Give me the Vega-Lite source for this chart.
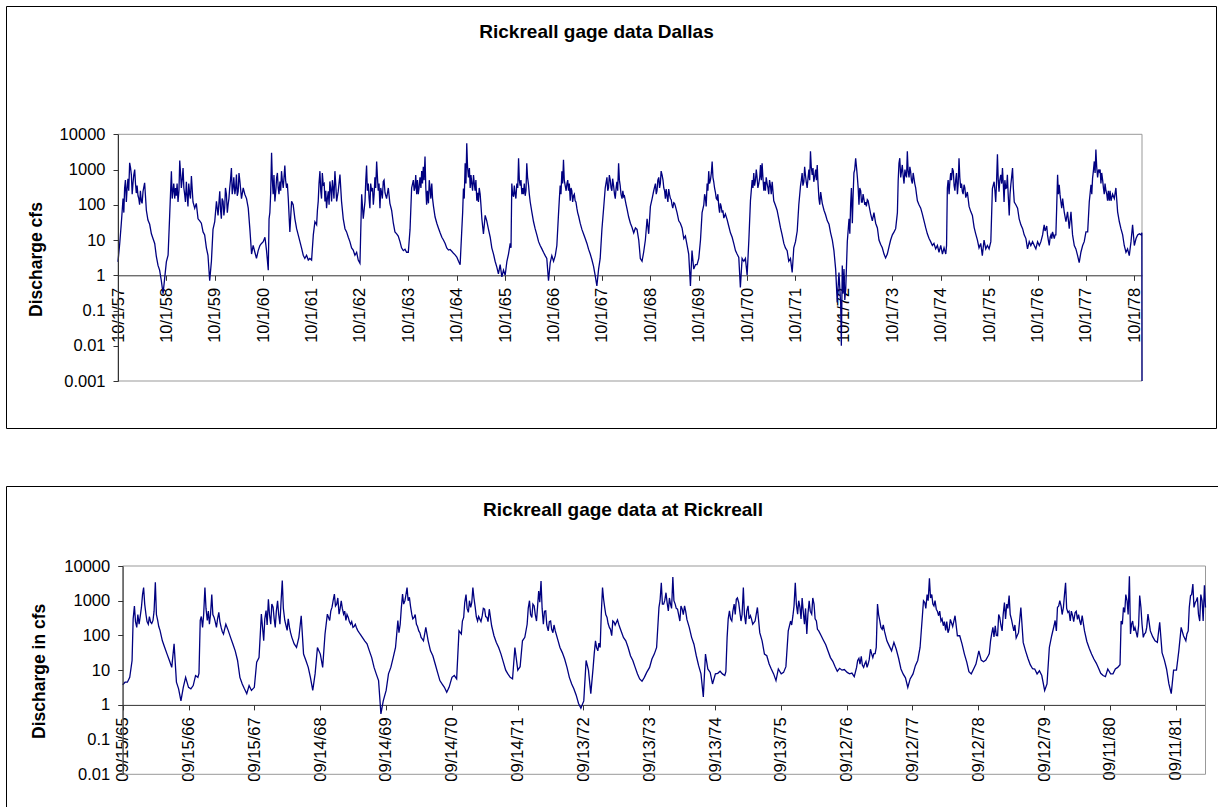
{
"$schema": "https://vega.github.io/schema/vega-lite/v6.json",
"padding": {"left": 5, "top": 5, "right": 0, "bottom": 0},
"background": "white",
"bounds": "flush",
"spacing": 58,
"config": {
  "font": "Liberation Sans",
  "view": {"stroke": "#000", "strokeWidth": 1},
  "axis": {"labelFont": "Liberation Sans", "titleFont": "Liberation Sans", "labelColor": "#000", "titleColor": "#000", "tickColor": "#333", "domainColor": "#333", "grid": false, "labelFontSize": 16.5, "tickSize": 5, "labelOverlap": false, "labelFlush": false, "labelBound": false}
},
"datasets": {
"top": [
{"d":"1957-10-01","q":2.4},{"d":"1957-10-14","q":8},{"d":"1957-10-26","q":30},{"d":"1957-11-08","q":150},{"d":"1957-11-20","q":300},{"d":"1957-12-03","q":120},{"d":"1957-12-15","q":550},{"d":"1957-12-28","q":1550},{"d":"1958-01-10","q":700},{"d":"1958-01-22","q":400},{"d":"1958-02-04","q":1000},{"d":"1958-02-16","q":215},{"d":"1958-03-01","q":180},{"d":"1958-03-13","q":100},{"d":"1958-03-26","q":125},{"d":"1958-04-08","q":240},{"d":"1958-04-20","q":420},{"d":"1958-05-03","q":70},{"d":"1958-05-15","q":37},{"d":"1958-05-28","q":28},{"d":"1958-06-10","q":15},{"d":"1958-06-22","q":11},{"d":"1958-07-05","q":8},{"d":"1958-07-17","q":3.5},{"d":"1958-07-30","q":1.9},{"d":"1958-08-11","q":1.4},{"d":"1958-08-24","q":0.7},{"d":"1958-09-06","q":0.3},{"d":"1958-09-18","q":0.8},
{"d":"1958-10-01","q":2.4},{"d":"1958-10-14","q":3.7},{"d":"1958-10-26","q":50},{"d":"1958-11-08","q":900},{"d":"1958-11-20","q":240},{"d":"1958-12-03","q":150},{"d":"1958-12-15","q":180},{"d":"1958-12-28","q":120},{"d":"1959-01-10","q":1800},{"d":"1959-01-22","q":300},{"d":"1959-02-04","q":1100},{"d":"1959-02-16","q":200},{"d":"1959-03-01","q":450},{"d":"1959-03-13","q":90},{"d":"1959-03-26","q":200},{"d":"1959-04-08","q":650},{"d":"1959-04-20","q":120},{"d":"1959-05-03","q":80},{"d":"1959-05-15","q":110},{"d":"1959-05-28","q":40},{"d":"1959-06-10","q":35},{"d":"1959-06-22","q":30},{"d":"1959-07-05","q":17},{"d":"1959-07-17","q":14},{"d":"1959-07-30","q":6},{"d":"1959-08-11","q":3.7},{"d":"1959-08-24","q":0.7},{"d":"1959-09-06","q":2.5},{"d":"1959-09-18","q":20},
{"d":"1959-10-01","q":33},{"d":"1959-10-14","q":125},{"d":"1959-10-26","q":50},{"d":"1959-11-08","q":240},{"d":"1959-11-20","q":40},{"d":"1959-12-03","q":125},{"d":"1959-12-15","q":80},{"d":"1959-12-28","q":200},{"d":"1960-01-10","q":100},{"d":"1960-01-22","q":300},{"d":"1960-02-04","q":1100},{"d":"1960-02-16","q":300},{"d":"1960-03-01","q":200},{"d":"1960-03-13","q":720},{"d":"1960-03-26","q":240},{"d":"1960-04-08","q":460},{"d":"1960-04-20","q":150},{"d":"1960-05-03","q":300},{"d":"1960-05-15","q":200},{"d":"1960-05-28","q":150},{"d":"1960-06-10","q":80},{"d":"1960-06-22","q":21},{"d":"1960-07-05","q":4},{"d":"1960-07-17","q":7},{"d":"1960-07-30","q":4.5},{"d":"1960-08-11","q":3},{"d":"1960-08-24","q":5},{"d":"1960-09-06","q":7},{"d":"1960-09-18","q":8},
{"d":"1960-10-01","q":9},{"d":"1960-10-14","q":12},{"d":"1960-10-26","q":5},{"d":"1960-11-08","q":1.4},{"d":"1960-11-20","q":60},{"d":"1960-12-03","q":3000},{"d":"1960-12-15","q":200},{"d":"1960-12-28","q":125},{"d":"1961-01-10","q":580},{"d":"1961-01-22","q":300},{"d":"1961-02-04","q":460},{"d":"1961-02-16","q":900},{"d":"1961-03-01","q":300},{"d":"1961-03-13","q":1300},{"d":"1961-03-26","q":300},{"d":"1961-04-08","q":150},{"d":"1961-04-20","q":17},{"d":"1961-05-03","q":125},{"d":"1961-05-15","q":100},{"d":"1961-05-28","q":40},{"d":"1961-06-10","q":21},{"d":"1961-06-22","q":14},{"d":"1961-07-05","q":9},{"d":"1961-07-17","q":6},{"d":"1961-07-30","q":3.7},{"d":"1961-08-11","q":3},{"d":"1961-08-24","q":3.7},{"d":"1961-09-06","q":2.7},{"d":"1961-09-18","q":3},
{"d":"1961-10-01","q":2.7},{"d":"1961-10-14","q":14},{"d":"1961-10-26","q":33},{"d":"1961-11-08","q":27},{"d":"1961-11-20","q":125},{"d":"1961-12-03","q":900},{"d":"1961-12-15","q":150},{"d":"1961-12-28","q":370},{"d":"1962-01-10","q":125},{"d":"1962-01-22","q":80},{"d":"1962-02-04","q":240},{"d":"1962-02-16","q":460},{"d":"1962-03-01","q":125},{"d":"1962-03-13","q":300},{"d":"1962-03-26","q":900},{"d":"1962-04-08","q":125},{"d":"1962-04-20","q":240},{"d":"1962-05-03","q":720},{"d":"1962-05-15","q":125},{"d":"1962-05-28","q":40},{"d":"1962-06-10","q":21},{"d":"1962-06-22","q":17},{"d":"1962-07-05","q":12},{"d":"1962-07-17","q":9},{"d":"1962-07-30","q":6},{"d":"1962-08-11","q":5.2},{"d":"1962-08-24","q":3.7},{"d":"1962-09-06","q":4.5},{"d":"1962-09-18","q":2.7},
{"d":"1962-10-01","q":2.2},{"d":"1962-10-14","q":200},{"d":"1962-10-26","q":40},{"d":"1962-11-08","q":125},{"d":"1962-11-20","q":1300},{"d":"1962-12-03","q":400},{"d":"1962-12-15","q":80},{"d":"1962-12-28","q":240},{"d":"1963-01-10","q":100},{"d":"1963-01-22","q":600},{"d":"1963-02-04","q":1700},{"d":"1963-02-16","q":250},{"d":"1963-03-01","q":80},{"d":"1963-03-13","q":220},{"d":"1963-03-26","q":460},{"d":"1963-04-08","q":220},{"d":"1963-04-20","q":150},{"d":"1963-05-03","q":300},{"d":"1963-05-15","q":110},{"d":"1963-05-28","q":70},{"d":"1963-06-10","q":30},{"d":"1963-06-22","q":17},{"d":"1963-07-05","q":15},{"d":"1963-07-17","q":13},{"d":"1963-07-30","q":9},{"d":"1963-08-11","q":6},{"d":"1963-08-24","q":5},{"d":"1963-09-06","q":5.5},{"d":"1963-09-18","q":4.5},
{"d":"1963-10-01","q":4.5},{"d":"1963-10-14","q":20},{"d":"1963-10-26","q":300},{"d":"1963-11-08","q":500},{"d":"1963-11-20","q":300},{"d":"1963-12-03","q":200},{"d":"1963-12-15","q":200},{"d":"1963-12-28","q":600},{"d":"1964-01-10","q":900},{"d":"1964-01-22","q":1200},{"d":"1964-02-04","q":2350},{"d":"1964-02-16","q":100},{"d":"1964-03-01","q":110},{"d":"1964-03-13","q":300},{"d":"1964-03-26","q":400},{"d":"1964-04-08","q":90},{"d":"1964-04-20","q":45},{"d":"1964-05-03","q":30},{"d":"1964-05-15","q":22},{"d":"1964-05-28","q":16},{"d":"1964-06-10","q":12},{"d":"1964-06-22","q":10},{"d":"1964-07-05","q":8},{"d":"1964-07-17","q":6},{"d":"1964-07-30","q":5.2},{"d":"1964-08-11","q":5.4},{"d":"1964-08-24","q":4.8},{"d":"1964-09-06","q":4.2},{"d":"1964-09-18","q":3.8},
{"d":"1964-10-01","q":3.3},{"d":"1964-10-14","q":2.5},{"d":"1964-10-26","q":2},{"d":"1964-11-08","q":21},{"d":"1964-11-20","q":290},{"d":"1964-12-03","q":1500},{"d":"1964-12-15","q":5600},{"d":"1964-12-28","q":600},{"d":"1965-01-10","q":300},{"d":"1965-01-22","q":400},{"d":"1965-02-04","q":700},{"d":"1965-02-16","q":250},{"d":"1965-03-01","q":130},{"d":"1965-03-13","q":120},{"d":"1965-03-26","q":200},{"d":"1965-04-08","q":40},{"d":"1965-04-20","q":15},{"d":"1965-05-03","q":50},{"d":"1965-05-15","q":35},{"d":"1965-05-28","q":20},{"d":"1965-06-10","q":12},{"d":"1965-06-22","q":6},{"d":"1965-07-05","q":4},{"d":"1965-07-17","q":2.5},{"d":"1965-07-30","q":1.7},{"d":"1965-08-11","q":1.1},{"d":"1965-08-24","q":2},{"d":"1965-09-06","q":0.9},{"d":"1965-09-18","q":1.4},
{"d":"1965-10-01","q":1},{"d":"1965-10-14","q":2.5},{"d":"1965-10-26","q":4},{"d":"1965-11-08","q":8},{"d":"1965-11-20","q":400},{"d":"1965-12-03","q":170},{"d":"1965-12-15","q":200},{"d":"1965-12-28","q":400},{"d":"1966-01-10","q":2100},{"d":"1966-01-22","q":350},{"d":"1966-02-04","q":200},{"d":"1966-02-16","q":200},{"d":"1966-03-01","q":180},{"d":"1966-03-13","q":1500},{"d":"1966-03-26","q":370},{"d":"1966-04-08","q":120},{"d":"1966-04-20","q":63},{"d":"1966-05-03","q":33},{"d":"1966-05-15","q":21},{"d":"1966-05-28","q":14},{"d":"1966-06-10","q":9},{"d":"1966-06-22","q":7},{"d":"1966-07-05","q":5.6},{"d":"1966-07-17","q":4.5},{"d":"1966-07-30","q":3.6},{"d":"1966-08-11","q":3},{"d":"1966-08-24","q":0.7},{"d":"1966-09-06","q":2.3},{"d":"1966-09-18","q":3.6},
{"d":"1966-10-01","q":2.5},{"d":"1966-10-14","q":3.6},{"d":"1966-10-26","q":7},{"d":"1966-11-08","q":60},{"d":"1966-11-20","q":350},{"d":"1966-12-03","q":900},{"d":"1966-12-15","q":1900},{"d":"1966-12-28","q":350},{"d":"1967-01-10","q":400},{"d":"1967-01-22","q":250},{"d":"1967-02-04","q":130},{"d":"1967-02-16","q":250},{"d":"1967-03-01","q":180},{"d":"1967-03-13","q":130},{"d":"1967-03-26","q":80},{"d":"1967-04-08","q":48},{"d":"1967-04-20","q":30},{"d":"1967-05-03","q":20},{"d":"1967-05-15","q":15},{"d":"1967-05-28","q":11},{"d":"1967-06-10","q":8},{"d":"1967-06-22","q":5.5},{"d":"1967-07-05","q":4},{"d":"1967-07-17","q":2.8},{"d":"1967-07-30","q":1.8},{"d":"1967-08-11","q":1},{"d":"1967-08-24","q":0.5},{"d":"1967-09-06","q":1.5},{"d":"1967-09-18","q":3},
{"d":"1967-10-01","q":20},{"d":"1967-10-14","q":80},{"d":"1967-10-26","q":300},{"d":"1967-11-08","q":600},{"d":"1967-11-20","q":300},{"d":"1967-12-03","q":500},{"d":"1967-12-15","q":250},{"d":"1967-12-28","q":350},{"d":"1968-01-10","q":150},{"d":"1968-01-22","q":450},{"d":"1968-02-04","q":1500},{"d":"1968-02-16","q":350},{"d":"1968-03-01","q":150},{"d":"1968-03-13","q":170},{"d":"1968-03-26","q":130},{"d":"1968-04-08","q":75},{"d":"1968-04-20","q":45},{"d":"1968-05-03","q":30},{"d":"1968-05-15","q":23},{"d":"1968-05-28","q":16},{"d":"1968-06-10","q":22},{"d":"1968-06-22","q":20},{"d":"1968-07-05","q":10},{"d":"1968-07-17","q":3},{"d":"1968-07-30","q":2.5},{"d":"1968-08-11","q":4.5},{"d":"1968-08-24","q":10},{"d":"1968-09-06","q":40},{"d":"1968-09-18","q":15},
{"d":"1968-10-01","q":90},{"d":"1968-10-14","q":150},{"d":"1968-10-26","q":250},{"d":"1968-11-08","q":400},{"d":"1968-11-20","q":250},{"d":"1968-12-03","q":600},{"d":"1968-12-15","q":400},{"d":"1968-12-28","q":710},{"d":"1969-01-10","q":300},{"d":"1969-01-22","q":150},{"d":"1969-02-04","q":170},{"d":"1969-02-16","q":280},{"d":"1969-03-01","q":150},{"d":"1969-03-13","q":100},{"d":"1969-03-26","q":115},{"d":"1969-04-08","q":90},{"d":"1969-04-20","q":60},{"d":"1969-05-03","q":35},{"d":"1969-05-15","q":30},{"d":"1969-05-28","q":22},{"d":"1969-06-10","q":11},{"d":"1969-06-22","q":13},{"d":"1969-07-05","q":7},{"d":"1969-07-17","q":4},{"d":"1969-07-30","q":0.5},{"d":"1969-08-11","q":5},{"d":"1969-08-24","q":1.5},{"d":"1969-09-06","q":2},{"d":"1969-09-18","q":2},
{"d":"1969-10-01","q":3},{"d":"1969-10-14","q":10},{"d":"1969-10-26","q":60},{"d":"1969-11-08","q":100},{"d":"1969-11-20","q":160},{"d":"1969-12-03","q":400},{"d":"1969-12-15","q":900},{"d":"1969-12-28","q":500},{"d":"1970-01-10","q":1700},{"d":"1970-01-22","q":450},{"d":"1970-02-04","q":220},{"d":"1970-02-16","q":140},{"d":"1970-03-01","q":90},{"d":"1970-03-13","q":110},{"d":"1970-03-26","q":60},{"d":"1970-04-08","q":42},{"d":"1970-04-20","q":55},{"d":"1970-05-03","q":38},{"d":"1970-05-15","q":25},{"d":"1970-05-28","q":16},{"d":"1970-06-10","q":12},{"d":"1970-06-22","q":8},{"d":"1970-07-05","q":5},{"d":"1970-07-17","q":4},{"d":"1970-07-30","q":3.2},{"d":"1970-08-11","q":0.45},{"d":"1970-08-24","q":3},{"d":"1970-09-06","q":2.5},{"d":"1970-09-18","q":3},
{"d":"1970-10-01","q":1},{"d":"1970-10-14","q":10},{"d":"1970-10-26","q":130},{"d":"1970-11-08","q":500},{"d":"1970-11-20","q":800},{"d":"1970-12-03","q":500},{"d":"1970-12-15","q":600},{"d":"1970-12-28","q":400},{"d":"1971-01-10","q":1350},{"d":"1971-01-22","q":1500},{"d":"1971-02-04","q":250},{"d":"1971-02-16","q":250},{"d":"1971-03-01","q":400},{"d":"1971-03-13","q":200},{"d":"1971-03-26","q":350},{"d":"1971-04-08","q":450},{"d":"1971-04-20","q":130},{"d":"1971-05-03","q":95},{"d":"1971-05-15","q":70},{"d":"1971-05-28","q":40},{"d":"1971-06-10","q":22},{"d":"1971-06-22","q":14},{"d":"1971-07-05","q":8},{"d":"1971-07-17","q":6},{"d":"1971-07-30","q":5},{"d":"1971-08-11","q":2.5},{"d":"1971-08-24","q":3},{"d":"1971-09-06","q":1.2},{"d":"1971-09-18","q":6},
{"d":"1971-10-01","q":9},{"d":"1971-10-14","q":18},{"d":"1971-10-26","q":100},{"d":"1971-11-08","q":350},{"d":"1971-11-20","q":800},{"d":"1971-12-03","q":450},{"d":"1971-12-15","q":700},{"d":"1971-12-28","q":300},{"d":"1972-01-10","q":1000},{"d":"1972-01-22","q":3300},{"d":"1972-02-04","q":700},{"d":"1972-02-16","q":450},{"d":"1972-03-01","q":1000},{"d":"1972-03-13","q":1350},{"d":"1972-03-26","q":150},{"d":"1972-04-08","q":230},{"d":"1972-04-20","q":110},{"d":"1972-05-03","q":70},{"d":"1972-05-15","q":52},{"d":"1972-05-28","q":35},{"d":"1972-06-10","q":28},{"d":"1972-06-22","q":16},{"d":"1972-07-05","q":10},{"d":"1972-07-17","q":5},{"d":"1972-07-30","q":1.5},{"d":"1972-08-11","q":0.17},{"d":"1972-08-24","q":1.2},{"d":"1972-09-06","q":0.15},{"d":"1972-09-11","q":0.01},{"d":"1972-09-18","q":1.9},{"d":"1972-09-24","q":0.3},
{"d":"1972-10-01","q":1.5},{"d":"1972-10-07","q":0.2},{"d":"1972-10-14","q":0.4},{"d":"1972-10-26","q":9},{"d":"1972-11-08","q":40},{"d":"1972-11-20","q":100},{"d":"1972-12-03","q":30},{"d":"1972-12-15","q":800},{"d":"1972-12-28","q":2100},{"d":"1973-01-10","q":600},{"d":"1973-01-22","q":100},{"d":"1973-02-04","q":250},{"d":"1973-02-16","q":120},{"d":"1973-03-01","q":140},{"d":"1973-03-13","q":120},{"d":"1973-03-26","q":140},{"d":"1973-04-08","q":95},{"d":"1973-04-20","q":55},{"d":"1973-05-03","q":35},{"d":"1973-05-15","q":60},{"d":"1973-05-28","q":30},{"d":"1973-06-10","q":22},{"d":"1973-06-22","q":10},{"d":"1973-07-05","q":7.5},{"d":"1973-07-17","q":6},{"d":"1973-07-30","q":4},{"d":"1973-08-11","q":3.1},{"d":"1973-08-24","q":4},{"d":"1973-09-06","q":6.5},{"d":"1973-09-18","q":10},
{"d":"1973-10-01","q":14},{"d":"1973-10-14","q":17},{"d":"1973-10-26","q":21},{"d":"1973-11-08","q":60},{"d":"1973-11-20","q":1500},{"d":"1973-12-03","q":600},{"d":"1973-12-15","q":1350},{"d":"1973-12-28","q":400},{"d":"1974-01-10","q":700},{"d":"1974-01-22","q":3300},{"d":"1974-02-04","q":600},{"d":"1974-02-16","q":870},{"d":"1974-03-01","q":400},{"d":"1974-03-13","q":570},{"d":"1974-03-26","q":300},{"d":"1974-04-08","q":130},{"d":"1974-04-20","q":100},{"d":"1974-05-03","q":80},{"d":"1974-05-15","q":55},{"d":"1974-05-28","q":35},{"d":"1974-06-10","q":22},{"d":"1974-06-22","q":15},{"d":"1974-07-05","q":11},{"d":"1974-07-17","q":9},{"d":"1974-07-30","q":7},{"d":"1974-08-11","q":8},{"d":"1974-08-24","q":5.6},{"d":"1974-09-06","q":7},{"d":"1974-09-18","q":4.5},
{"d":"1974-10-01","q":7},{"d":"1974-10-14","q":4},{"d":"1974-10-26","q":6},{"d":"1974-11-08","q":4},{"d":"1974-11-20","q":300},{"d":"1974-12-03","q":200},{"d":"1974-12-15","q":800},{"d":"1974-12-28","q":1100},{"d":"1975-01-10","q":350},{"d":"1975-01-22","q":500},{"d":"1975-02-04","q":200},{"d":"1975-02-16","q":2100},{"d":"1975-03-01","q":300},{"d":"1975-03-13","q":240},{"d":"1975-03-26","q":370},{"d":"1975-04-08","q":160},{"d":"1975-04-20","q":230},{"d":"1975-05-03","q":90},{"d":"1975-05-15","q":65},{"d":"1975-05-28","q":50},{"d":"1975-06-10","q":23},{"d":"1975-06-22","q":15},{"d":"1975-07-05","q":10},{"d":"1975-07-17","q":6},{"d":"1975-07-30","q":8},{"d":"1975-08-11","q":3.6},{"d":"1975-08-24","q":10},{"d":"1975-09-06","q":5.6},{"d":"1975-09-18","q":7},
{"d":"1975-10-01","q":5.6},{"d":"1975-10-14","q":9},{"d":"1975-10-26","q":290},{"d":"1975-11-08","q":450},{"d":"1975-11-20","q":120},{"d":"1975-12-03","q":2700},{"d":"1975-12-15","q":235},{"d":"1975-12-28","q":710},{"d":"1976-01-10","q":1100},{"d":"1976-01-22","q":120},{"d":"1976-02-04","q":290},{"d":"1976-02-16","q":710},{"d":"1976-03-01","q":50},{"d":"1976-03-13","q":370},{"d":"1976-03-26","q":1100},{"d":"1976-04-08","q":120},{"d":"1976-04-20","q":100},{"d":"1976-05-03","q":80},{"d":"1976-05-15","q":40},{"d":"1976-05-28","q":27},{"d":"1976-06-10","q":21},{"d":"1976-06-22","q":14},{"d":"1976-07-05","q":11},{"d":"1976-07-17","q":5.6},{"d":"1976-07-30","q":9},{"d":"1976-08-11","q":7},{"d":"1976-08-24","q":9},{"d":"1976-09-06","q":7},{"d":"1976-09-18","q":5.6},
{"d":"1976-10-01","q":9},{"d":"1976-10-14","q":7},{"d":"1976-10-26","q":9},{"d":"1976-11-08","q":14},{"d":"1976-11-20","q":27},{"d":"1976-12-03","q":21},{"d":"1976-12-15","q":14},{"d":"1976-12-28","q":7},{"d":"1977-01-10","q":14},{"d":"1977-01-22","q":17},{"d":"1977-02-04","q":11},{"d":"1977-02-16","q":14},{"d":"1977-03-01","q":710},{"d":"1977-03-13","q":370},{"d":"1977-03-26","q":120},{"d":"1977-04-08","q":150},{"d":"1977-04-20","q":63},{"d":"1977-05-03","q":33},{"d":"1977-05-15","q":63},{"d":"1977-05-28","q":21},{"d":"1977-06-10","q":63},{"d":"1977-06-22","q":14},{"d":"1977-07-05","q":7},{"d":"1977-07-17","q":5.6},{"d":"1977-07-30","q":3.6},{"d":"1977-08-11","q":2.3},{"d":"1977-08-24","q":4.5},{"d":"1977-09-06","q":7},{"d":"1977-09-18","q":9},
{"d":"1977-10-01","q":17},{"d":"1977-10-14","q":17},{"d":"1977-10-26","q":120},{"d":"1977-11-08","q":370},{"d":"1977-11-20","q":570},{"d":"1977-12-03","q":1700},{"d":"1977-12-15","q":3700},{"d":"1977-12-28","q":600},{"d":"1978-01-10","q":870},{"d":"1978-01-22","q":400},{"d":"1978-02-04","q":500},{"d":"1978-02-16","q":200},{"d":"1978-03-01","q":250},{"d":"1978-03-13","q":130},{"d":"1978-03-26","q":130},{"d":"1978-04-08","q":130},{"d":"1978-04-20","q":200},{"d":"1978-05-03","q":150},{"d":"1978-05-15","q":300},{"d":"1978-05-28","q":63},{"d":"1978-06-10","q":33},{"d":"1978-06-22","q":21},{"d":"1978-07-05","q":14},{"d":"1978-07-17","q":7},{"d":"1978-07-30","q":4.5},{"d":"1978-08-11","q":5.6},{"d":"1978-08-24","q":3.6},{"d":"1978-09-06","q":9},{"d":"1978-09-18","q":27},
{"d":"1978-10-01","q":7},{"d":"1978-10-14","q":11},{"d":"1978-10-26","q":14},{"d":"1978-11-08","q":15},{"d":"1978-11-20","q":14},{"d":"1978-11-27","q":16},{"d":"1978-11-28","q":0.001},
{"d":"1957-11-14","q":60},{"d":"1957-11-26","q":500},{"d":"1957-12-09","q":300},{"d":"1957-12-21","q":250},{"d":"1958-01-04","q":1100},{"d":"1958-01-16","q":200},{"d":"1958-01-28","q":700},{"d":"1958-02-10","q":400},{"d":"1958-02-22","q":350},{"d":"1958-03-07","q":150},{"d":"1958-03-19","q":250},{"d":"1958-04-01","q":110},
{"d":"1958-11-14","q":150},{"d":"1958-11-26","q":400},{"d":"1958-12-09","q":300},{"d":"1958-12-21","q":400},{"d":"1959-01-04","q":250},{"d":"1959-01-16","q":800},{"d":"1959-01-28","q":500},{"d":"1959-02-10","q":300},{"d":"1959-02-22","q":120},{"d":"1959-03-07","q":180},{"d":"1959-03-19","q":400},{"d":"1959-04-01","q":150},
{"d":"1959-11-14","q":70},{"d":"1959-11-26","q":150},{"d":"1959-12-09","q":50},{"d":"1959-12-21","q":300},{"d":"1960-01-04","q":60},{"d":"1960-01-16","q":150},{"d":"1960-01-28","q":500},{"d":"1960-02-10","q":200},{"d":"1960-02-22","q":600},{"d":"1960-03-07","q":300},{"d":"1960-03-19","q":180},{"d":"1960-04-01","q":800},
{"d":"1960-11-14","q":40},{"d":"1960-11-26","q":200},{"d":"1960-12-09","q":500},{"d":"1960-12-21","q":700},{"d":"1961-01-04","q":250},{"d":"1961-01-16","q":800},{"d":"1961-01-28","q":200},{"d":"1961-02-10","q":250},{"d":"1961-02-22","q":500},{"d":"1961-03-07","q":600},{"d":"1961-03-19","q":500},{"d":"1961-04-01","q":400},
{"d":"1961-11-14","q":70},{"d":"1961-11-26","q":400},{"d":"1961-12-09","q":250},{"d":"1961-12-21","q":800},{"d":"1962-01-04","q":400},{"d":"1962-01-16","q":250},{"d":"1962-01-28","q":150},{"d":"1962-02-10","q":100},{"d":"1962-02-22","q":300},{"d":"1962-03-07","q":500},{"d":"1962-03-19","q":150},{"d":"1962-04-01","q":400},
{"d":"1962-11-14","q":500},{"d":"1962-11-26","q":250},{"d":"1962-12-09","q":150},{"d":"1962-12-21","q":400},{"d":"1963-01-04","q":300},{"d":"1963-01-16","q":200},{"d":"1963-01-28","q":300},{"d":"1963-02-10","q":600},{"d":"1963-02-22","q":400},{"d":"1963-03-07","q":300},{"d":"1963-03-19","q":150},{"d":"1963-04-01","q":500},
{"d":"1963-11-14","q":250},{"d":"1963-11-26","q":700},{"d":"1963-12-09","q":500},{"d":"1963-12-21","q":300},{"d":"1964-01-04","q":300},{"d":"1964-01-16","q":400},{"d":"1964-01-28","q":500},{"d":"1964-02-10","q":300},{"d":"1964-02-22","q":250},{"d":"1964-03-07","q":500},{"d":"1964-03-19","q":150},{"d":"1964-04-01","q":150},
{"d":"1964-11-14","q":60},{"d":"1964-11-26","q":150},{"d":"1964-12-09","q":400},{"d":"1964-12-21","q":1200},{"d":"1965-01-04","q":1100},{"d":"1965-01-16","q":700},{"d":"1965-01-28","q":250},{"d":"1965-02-10","q":400},{"d":"1965-02-22","q":500},{"d":"1965-03-07","q":220},{"d":"1965-03-19","q":300},{"d":"1965-04-01","q":100},
{"d":"1965-11-14","q":6},{"d":"1965-11-26","q":200},{"d":"1965-12-09","q":350},{"d":"1965-12-21","q":150},{"d":"1966-01-04","q":300},{"d":"1966-01-16","q":500},{"d":"1966-01-28","q":500},{"d":"1966-02-10","q":300},{"d":"1966-02-22","q":400},{"d":"1966-03-07","q":250},{"d":"1966-03-19","q":600},{"d":"1966-04-01","q":200},
{"d":"1966-11-14","q":150},{"d":"1966-11-26","q":200},{"d":"1966-12-09","q":400},{"d":"1966-12-21","q":500},{"d":"1967-01-04","q":250},{"d":"1967-01-16","q":500},{"d":"1967-01-28","q":400},{"d":"1967-02-10","q":300},{"d":"1967-02-22","q":120},{"d":"1967-03-07","q":200},{"d":"1967-03-19","q":120},{"d":"1967-04-01","q":60},
{"d":"1967-11-14","q":250},{"d":"1967-11-26","q":700},{"d":"1967-12-09","q":300},{"d":"1967-12-21","q":550},{"d":"1968-01-04","q":200},{"d":"1968-01-16","q":300},{"d":"1968-01-28","q":250},{"d":"1968-02-10","q":500},{"d":"1968-02-22","q":200},{"d":"1968-03-07","q":250},{"d":"1968-03-19","q":180},{"d":"1968-04-01","q":100},
{"d":"1968-11-14","q":200},{"d":"1968-11-26","q":500},{"d":"1968-12-09","q":300},{"d":"1968-12-21","q":900},{"d":"1969-01-04","q":500},{"d":"1969-01-16","q":250},{"d":"1969-01-28","q":280},{"d":"1969-02-10","q":120},{"d":"1969-02-22","q":200},{"d":"1969-03-07","q":140},{"d":"1969-03-19","q":80},{"d":"1969-04-01","q":110},
{"d":"1969-11-14","q":200},{"d":"1969-11-26","q":90},{"d":"1969-12-09","q":250},{"d":"1969-12-21","q":400},{"d":"1970-01-04","q":800},{"d":"1970-01-16","q":600},{"d":"1970-01-28","q":300},{"d":"1970-02-10","q":150},{"d":"1970-02-22","q":200},{"d":"1970-03-07","q":60},{"d":"1970-03-19","q":90},{"d":"1970-04-01","q":70},
{"d":"1970-11-14","q":300},{"d":"1970-11-26","q":350},{"d":"1970-12-09","q":1000},{"d":"1970-12-21","q":300},{"d":"1971-01-04","q":600},{"d":"1971-01-16","q":500},{"d":"1971-01-28","q":600},{"d":"1971-02-10","q":450},{"d":"1971-02-22","q":600},{"d":"1971-03-07","q":300},{"d":"1971-03-19","q":500},{"d":"1971-04-01","q":200},
{"d":"1971-11-14","q":500},{"d":"1971-11-26","q":350},{"d":"1971-12-09","q":1200},{"d":"1971-12-21","q":450},{"d":"1972-01-04","q":600},{"d":"1972-01-16","q":500},{"d":"1972-01-28","q":1200},{"d":"1972-02-10","q":1100},{"d":"1972-02-22","q":600},{"d":"1972-03-07","q":500},{"d":"1972-03-19","q":400},{"d":"1972-04-01","q":100},
{"d":"1972-11-14","q":15},{"d":"1972-11-26","q":300},{"d":"1972-12-09","q":200},{"d":"1972-12-21","q":1000},{"d":"1973-01-04","q":1100},{"d":"1973-01-16","q":300},{"d":"1973-01-28","q":300},{"d":"1973-02-10","q":120},{"d":"1973-02-22","q":200},{"d":"1973-03-07","q":100},{"d":"1973-03-19","q":90},{"d":"1973-04-01","q":130},
{"d":"1973-11-14","q":500},{"d":"1973-11-26","q":2100},{"d":"1973-12-09","q":900},{"d":"1973-12-21","q":700},{"d":"1974-01-04","q":1000},{"d":"1974-01-16","q":600},{"d":"1974-01-28","q":900},{"d":"1974-02-10","q":1200},{"d":"1974-02-22","q":500},{"d":"1974-03-07","q":800},{"d":"1974-03-19","q":400},{"d":"1974-04-01","q":200},
{"d":"1974-11-14","q":7},{"d":"1974-11-26","q":500},{"d":"1974-12-09","q":450},{"d":"1974-12-21","q":500},{"d":"1975-01-04","q":900},{"d":"1975-01-16","q":250},{"d":"1975-01-28","q":800},{"d":"1975-02-10","q":400},{"d":"1975-02-22","q":600},{"d":"1975-03-07","q":400},{"d":"1975-03-19","q":200},{"d":"1975-04-01","q":300},
{"d":"1975-11-14","q":250},{"d":"1975-11-26","q":400},{"d":"1975-12-09","q":500},{"d":"1975-12-21","q":500},{"d":"1976-01-04","q":400},{"d":"1976-01-16","q":400},{"d":"1976-01-28","q":500},{"d":"1976-02-10","q":300},{"d":"1976-02-22","q":200},{"d":"1976-03-07","q":200},{"d":"1976-03-19","q":600},{"d":"1976-04-01","q":300},
{"d":"1976-11-14","q":20},{"d":"1976-11-26","q":18},{"d":"1976-12-09","q":25},{"d":"1976-12-21","q":10},{"d":"1977-01-04","q":12},{"d":"1977-01-16","q":11},{"d":"1977-01-28","q":14},{"d":"1977-02-10","q":14},{"d":"1977-02-22","q":80},{"d":"1977-03-07","q":200},{"d":"1977-03-19","q":200},{"d":"1977-04-01","q":80},
{"d":"1977-11-14","q":200},{"d":"1977-11-26","q":900},{"d":"1977-12-09","q":800},{"d":"1977-12-21","q":1200},{"d":"1978-01-04","q":1000},{"d":"1978-01-16","q":1000},{"d":"1978-01-28","q":800},{"d":"1978-02-10","q":300},{"d":"1978-02-22","q":400},{"d":"1978-03-07","q":200},{"d":"1978-03-19","q":250},{"d":"1978-04-01","q":250}
],
"bot": [
{"d":"1965-09-15","q":3.8},{"d":"1965-09-28","q":4.5},{"d":"1965-10-11","q":4.5},{"d":"1965-10-24","q":6.2},{"d":"1965-11-06","q":19},{"d":"1965-11-19","q":700},{"d":"1965-12-02","q":170},{"d":"1965-12-15","q":210},{"d":"1965-12-28","q":650},{"d":"1966-01-09","q":2400},{"d":"1966-01-22","q":400},{"d":"1966-02-04","q":210},{"d":"1966-02-17","q":240},{"d":"1966-03-02","q":270},{"d":"1966-03-15","q":3400},{"d":"1966-03-28","q":270},{"d":"1966-04-10","q":140},{"d":"1966-04-23","q":70},{"d":"1966-05-06","q":45},{"d":"1966-05-19","q":29},{"d":"1966-06-01","q":19},{"d":"1966-06-14","q":12},{"d":"1966-06-27","q":57},{"d":"1966-07-10","q":4.5},{"d":"1966-07-22","q":2.9},{"d":"1966-08-04","q":1.3},{"d":"1966-08-17","q":3.2},{"d":"1966-08-30","q":6.2},
{"d":"1966-09-15","q":3.2},{"d":"1966-09-28","q":2.9},{"d":"1966-10-11","q":3.6},{"d":"1966-10-24","q":7},{"d":"1966-11-06","q":6.2},{"d":"1966-11-19","q":270},{"d":"1966-12-02","q":170},{"d":"1966-12-15","q":2400},{"d":"1966-12-28","q":270},{"d":"1967-01-09","q":210},{"d":"1967-01-22","q":1500},{"d":"1967-02-04","q":330},{"d":"1967-02-17","q":170},{"d":"1967-03-02","q":460},{"d":"1967-03-15","q":170},{"d":"1967-03-28","q":110},{"d":"1967-04-10","q":210},{"d":"1967-04-23","q":140},{"d":"1967-05-06","q":88},{"d":"1967-05-19","q":57},{"d":"1967-06-01","q":36},{"d":"1967-06-14","q":19},{"d":"1967-06-27","q":6.2},{"d":"1967-07-10","q":4},{"d":"1967-07-22","q":2.9},{"d":"1967-08-04","q":2.1},{"d":"1967-08-17","q":3.6},{"d":"1967-08-30","q":2.6},
{"d":"1967-09-15","q":3.2},{"d":"1967-09-28","q":17},{"d":"1967-10-11","q":23},{"d":"1967-10-24","q":410},{"d":"1967-11-06","q":70},{"d":"1967-11-19","q":520},{"d":"1967-12-02","q":1100},{"d":"1967-12-15","q":210},{"d":"1967-12-28","q":650},{"d":"1968-01-09","q":170},{"d":"1968-01-22","q":1000},{"d":"1968-02-04","q":210},{"d":"1968-02-17","q":3800},{"d":"1968-03-02","q":270},{"d":"1968-03-15","q":140},{"d":"1968-03-28","q":170},{"d":"1968-04-10","q":88},{"d":"1968-04-23","q":57},{"d":"1968-05-06","q":45},{"d":"1968-05-19","q":88},{"d":"1968-06-01","q":370},{"d":"1968-06-14","q":29},{"d":"1968-06-27","q":19},{"d":"1968-07-10","q":12},{"d":"1968-07-22","q":6.2},{"d":"1968-08-04","q":2.6},{"d":"1968-08-17","q":7.8},{"d":"1968-08-30","q":45},
{"d":"1968-09-15","q":29},{"d":"1968-09-28","q":12},{"d":"1968-10-11","q":110},{"d":"1968-10-24","q":410},{"d":"1968-11-06","q":270},{"d":"1968-11-19","q":650},{"d":"1968-12-02","q":1550},{"d":"1968-12-15","q":800},{"d":"1968-12-28","q":410},{"d":"1969-01-09","q":1000},{"d":"1969-01-22","q":410},{"d":"1969-02-04","q":270},{"d":"1969-02-17","q":330},{"d":"1969-03-02","q":210},{"d":"1969-03-15","q":170},{"d":"1969-03-28","q":210},{"d":"1969-04-10","q":140},{"d":"1969-04-23","q":110},{"d":"1969-05-06","q":88},{"d":"1969-05-19","q":70},{"d":"1969-06-01","q":57},{"d":"1969-06-14","q":36},{"d":"1969-06-27","q":23},{"d":"1969-07-10","q":12},{"d":"1969-07-22","q":7.8},{"d":"1969-08-04","q":5},{"d":"1969-08-17","q":0.55},{"d":"1969-08-30","q":1.3},
{"d":"1969-09-15","q":2.6},{"d":"1969-09-28","q":7.8},{"d":"1969-10-11","q":12},{"d":"1969-10-24","q":23},{"d":"1969-11-06","q":45},{"d":"1969-11-19","q":270},{"d":"1969-12-02","q":210},{"d":"1969-12-15","q":1550},{"d":"1969-12-28","q":1000},{"d":"1970-01-09","q":2400},{"d":"1970-01-22","q":1250},{"d":"1970-02-04","q":410},{"d":"1970-02-17","q":330},{"d":"1970-03-02","q":210},{"d":"1970-03-15","q":135},{"d":"1970-03-28","q":88},{"d":"1970-04-10","q":70},{"d":"1970-04-23","q":170},{"d":"1970-05-06","q":70},{"d":"1970-05-19","q":36},{"d":"1970-06-01","q":26},{"d":"1970-06-14","q":15},{"d":"1970-06-27","q":8.6},{"d":"1970-07-10","q":5},{"d":"1970-07-22","q":4},{"d":"1970-08-04","q":3.2},{"d":"1970-08-17","q":2.3},{"d":"1970-08-30","q":3.2},
{"d":"1970-09-15","q":6.2},{"d":"1970-09-28","q":7},{"d":"1970-10-11","q":5.6},{"d":"1970-10-24","q":135},{"d":"1970-11-06","q":110},{"d":"1970-11-19","q":330},{"d":"1970-12-02","q":1500},{"d":"1970-12-15","q":460},{"d":"1970-12-28","q":640},{"d":"1971-01-09","q":2400},{"d":"1971-01-22","q":640},{"d":"1971-02-04","q":260},{"d":"1971-02-17","q":290},{"d":"1971-03-02","q":370},{"d":"1971-03-15","q":570},{"d":"1971-03-28","q":330},{"d":"1971-04-10","q":570},{"d":"1971-04-23","q":190},{"d":"1971-05-06","q":98},{"d":"1971-05-19","q":63},{"d":"1971-06-01","q":45},{"d":"1971-06-14","q":29},{"d":"1971-06-27","q":17},{"d":"1971-07-10","q":10},{"d":"1971-07-22","q":7.8},{"d":"1971-08-04","q":6.2},{"d":"1971-08-17","q":5.6},{"d":"1971-08-30","q":45},
{"d":"1971-09-15","q":10},{"d":"1971-09-28","q":12.6},{"d":"1971-10-11","q":70},{"d":"1971-10-24","q":88},{"d":"1971-11-06","q":210},{"d":"1971-11-19","q":1000},{"d":"1971-12-02","q":330},{"d":"1971-12-15","q":710},{"d":"1971-12-28","q":260},{"d":"1972-01-09","q":1900},{"d":"1972-01-22","q":3700},{"d":"1972-02-04","q":210},{"d":"1972-02-17","q":510},{"d":"1972-03-02","q":135},{"d":"1972-03-15","q":260},{"d":"1972-03-28","q":120},{"d":"1972-04-10","q":135},{"d":"1972-04-23","q":78},{"d":"1972-05-06","q":45},{"d":"1972-05-19","q":32},{"d":"1972-06-01","q":21},{"d":"1972-06-14","q":12},{"d":"1972-06-27","q":6.2},{"d":"1972-07-10","q":4},{"d":"1972-07-22","q":2.9},{"d":"1972-08-04","q":1.9},{"d":"1972-08-17","q":1.1},{"d":"1972-08-30","q":0.8},
{"d":"1972-09-15","q":1.3},{"d":"1972-09-28","q":19},{"d":"1972-10-11","q":10},{"d":"1972-10-24","q":2.1},{"d":"1972-11-06","q":12},{"d":"1972-11-19","q":70},{"d":"1972-12-02","q":36},{"d":"1972-12-15","q":45},{"d":"1972-12-28","q":2400},{"d":"1973-01-09","q":640},{"d":"1973-01-22","q":330},{"d":"1973-02-04","q":170},{"d":"1973-02-17","q":98},{"d":"1973-03-02","q":240},{"d":"1973-03-15","q":240},{"d":"1973-03-28","q":210},{"d":"1973-04-10","q":135},{"d":"1973-04-23","q":88},{"d":"1973-05-06","q":70},{"d":"1973-05-19","q":45},{"d":"1973-06-01","q":26},{"d":"1973-06-14","q":19},{"d":"1973-06-27","q":12},{"d":"1973-07-10","q":7.8},{"d":"1973-07-22","q":5.6},{"d":"1973-08-04","q":4.8},{"d":"1973-08-17","q":6.2},{"d":"1973-08-30","q":8.6},
{"d":"1973-09-15","q":12},{"d":"1973-09-28","q":21},{"d":"1973-10-11","q":29},{"d":"1973-10-24","q":45},{"d":"1973-11-06","q":640},{"d":"1973-11-19","q":3300},{"d":"1973-12-02","q":800},{"d":"1973-12-15","q":1700},{"d":"1973-12-28","q":510},{"d":"1974-01-09","q":800},{"d":"1974-01-22","q":4800},{"d":"1974-02-04","q":800},{"d":"1974-02-17","q":570},{"d":"1974-03-02","q":260},{"d":"1974-03-15","q":570},{"d":"1974-03-28","q":710},{"d":"1974-04-10","q":290},{"d":"1974-04-23","q":170},{"d":"1974-05-06","q":88},{"d":"1974-05-19","q":56},{"d":"1974-06-01","q":26},{"d":"1974-06-14","q":13.5},{"d":"1974-06-27","q":7.8},{"d":"1974-07-10","q":1.7},{"d":"1974-07-22","q":29},{"d":"1974-08-04","q":10.8},{"d":"1974-08-17","q":8.6},{"d":"1974-08-30","q":4},
{"d":"1974-09-15","q":7.8},{"d":"1974-09-28","q":8.1},{"d":"1974-10-11","q":9.3},{"d":"1974-10-24","q":7.8},{"d":"1974-11-06","q":7},{"d":"1974-11-19","q":88},{"d":"1974-12-02","q":510},{"d":"1974-12-15","q":260},{"d":"1974-12-28","q":800},{"d":"1975-01-09","q":1100},{"d":"1975-01-22","q":890},{"d":"1975-02-04","q":260},{"d":"1975-02-17","q":2400},{"d":"1975-03-02","q":210},{"d":"1975-03-15","q":710},{"d":"1975-03-28","q":370},{"d":"1975-04-10","q":210},{"d":"1975-04-23","q":260},{"d":"1975-05-06","q":640},{"d":"1975-05-19","q":120},{"d":"1975-06-01","q":70},{"d":"1975-06-14","q":29},{"d":"1975-06-27","q":26},{"d":"1975-07-10","q":15},{"d":"1975-07-22","q":10.8},{"d":"1975-08-04","q":7.8},{"d":"1975-08-17","q":5},{"d":"1975-08-30","q":10.8},
{"d":"1975-09-15","q":7.8},{"d":"1975-09-28","q":8.6},{"d":"1975-10-11","q":12.6},{"d":"1975-10-24","q":135},{"d":"1975-11-06","q":260},{"d":"1975-11-19","q":370},{"d":"1975-12-02","q":3300},{"d":"1975-12-15","q":410},{"d":"1975-12-28","q":640},{"d":"1976-01-09","q":1200},{"d":"1976-01-22","q":210},{"d":"1976-02-04","q":110},{"d":"1976-02-17","q":1000},{"d":"1976-03-02","q":410},{"d":"1976-03-15","q":800},{"d":"1976-03-28","q":260},{"d":"1976-04-10","q":135},{"d":"1976-04-23","q":100},{"d":"1976-05-06","q":73},{"d":"1976-05-19","q":54},{"d":"1976-06-01","q":35},{"d":"1976-06-14","q":23},{"d":"1976-06-27","q":18},{"d":"1976-07-10","q":12.6},{"d":"1976-07-22","q":9.3},{"d":"1976-08-04","q":11.3},{"d":"1976-08-17","q":10},{"d":"1976-08-30","q":10.4},
{"d":"1976-09-15","q":8.6},{"d":"1976-09-28","q":7.8},{"d":"1976-10-11","q":8.2},{"d":"1976-10-24","q":6.5},{"d":"1976-11-06","q":12},{"d":"1976-11-19","q":22},{"d":"1976-12-02","q":25},{"d":"1976-12-15","q":12},{"d":"1976-12-28","q":18},{"d":"1977-01-09","q":15},{"d":"1977-01-22","q":40},{"d":"1977-02-04","q":23},{"d":"1977-02-17","q":30},{"d":"1977-03-02","q":800},{"d":"1977-03-15","q":260},{"d":"1977-03-28","q":150},{"d":"1977-04-10","q":130},{"d":"1977-04-23","q":70},{"d":"1977-05-06","q":50},{"d":"1977-05-19","q":36},{"d":"1977-06-01","q":63},{"d":"1977-06-14","q":40},{"d":"1977-06-27","q":22},{"d":"1977-07-10","q":10.8},{"d":"1977-07-22","q":7.8},{"d":"1977-08-04","q":6},{"d":"1977-08-17","q":3.2},{"d":"1977-08-30","q":5.6},
{"d":"1977-09-15","q":7.8},{"d":"1977-09-28","q":13.5},{"d":"1977-10-11","q":19},{"d":"1977-10-24","q":45},{"d":"1977-11-06","q":370},{"d":"1977-11-19","q":890},{"d":"1977-12-02","q":1500},{"d":"1977-12-15","q":4400},{"d":"1977-12-28","q":1500},{"d":"1978-01-09","q":710},{"d":"1978-01-22","q":570},{"d":"1978-02-04","q":370},{"d":"1978-02-17","q":260},{"d":"1978-03-02","q":190},{"d":"1978-03-15","q":140},{"d":"1978-03-28","q":120},{"d":"1978-04-10","q":290},{"d":"1978-04-23","q":180},{"d":"1978-05-06","q":370},{"d":"1978-05-19","q":98},{"d":"1978-06-01","q":98},{"d":"1978-06-14","q":56},{"d":"1978-06-27","q":29},{"d":"1978-07-10","q":17},{"d":"1978-07-22","q":9},{"d":"1978-08-04","q":7.8},{"d":"1978-08-17","q":10.8},{"d":"1978-08-30","q":15},
{"d":"1978-09-15","q":36},{"d":"1978-09-28","q":19.5},{"d":"1978-10-11","q":17.5},{"d":"1978-10-24","q":19.5},{"d":"1978-11-06","q":26},{"d":"1978-11-19","q":70},{"d":"1978-12-02","q":170},{"d":"1978-12-15","q":190},{"d":"1978-12-28","q":98},{"d":"1979-01-09","q":330},{"d":"1979-01-22","q":135},{"d":"1979-02-04","q":890},{"d":"1979-02-17","q":800},{"d":"1979-03-02","q":1400},{"d":"1979-03-15","q":290},{"d":"1979-03-28","q":135},{"d":"1979-04-10","q":84},{"d":"1979-04-23","q":120},{"d":"1979-05-06","q":640},{"d":"1979-05-19","q":63},{"d":"1979-06-01","q":36},{"d":"1979-06-14","q":22},{"d":"1979-06-27","q":14.4},{"d":"1979-07-10","q":11},{"d":"1979-07-22","q":10.8},{"d":"1979-08-04","q":7.8},{"d":"1979-08-17","q":9.6},{"d":"1979-08-30","q":7},
{"d":"1979-09-15","q":2.6},{"d":"1979-09-28","q":4},{"d":"1979-10-11","q":45},{"d":"1979-10-24","q":98},{"d":"1979-11-06","q":190},{"d":"1979-11-19","q":135},{"d":"1979-12-02","q":710},{"d":"1979-12-15","q":710},{"d":"1979-12-28","q":640},{"d":"1980-01-09","q":3300},{"d":"1980-01-22","q":460},{"d":"1980-02-04","q":260},{"d":"1980-02-17","q":370},{"d":"1980-03-02","q":460},{"d":"1980-03-15","q":290},{"d":"1980-03-28","q":260},{"d":"1980-04-10","q":370},{"d":"1980-04-23","q":135},{"d":"1980-05-06","q":67},{"d":"1980-05-19","q":43},{"d":"1980-06-01","q":29},{"d":"1980-06-14","q":21},{"d":"1980-06-27","q":16},{"d":"1980-07-10","q":11.3},{"d":"1980-07-22","q":8.1},{"d":"1980-08-04","q":7},{"d":"1980-08-17","q":6.5},{"d":"1980-08-30","q":10.8},
{"d":"1980-09-15","q":7.8},{"d":"1980-09-28","q":7.8},{"d":"1980-10-11","q":10.8},{"d":"1980-10-24","q":12},{"d":"1980-11-06","q":14.4},{"d":"1980-11-19","q":210},{"d":"1980-12-02","q":460},{"d":"1980-12-15","q":1000},{"d":"1980-12-28","q":5100},{"d":"1981-01-09","q":210},{"d":"1981-01-22","q":135},{"d":"1981-02-04","q":120},{"d":"1981-02-17","q":190},{"d":"1981-03-02","q":640},{"d":"1981-03-15","q":88},{"d":"1981-03-28","q":120},{"d":"1981-04-10","q":410},{"d":"1981-04-23","q":135},{"d":"1981-05-06","q":92},{"d":"1981-05-19","q":70},{"d":"1981-06-01","q":63},{"d":"1981-06-14","q":240},{"d":"1981-06-27","q":32},{"d":"1981-07-10","q":19.5},{"d":"1981-07-22","q":10.8},{"d":"1981-08-04","q":4},{"d":"1981-08-17","q":2.1},{"d":"1981-08-30","q":10},
{"d":"1981-09-15","q":10},{"d":"1981-09-28","q":36},{"d":"1981-10-11","q":170},{"d":"1981-10-24","q":98},{"d":"1981-11-06","q":70},{"d":"1981-11-19","q":135},{"d":"1981-12-02","q":1400},{"d":"1981-12-15","q":3000},{"d":"1981-12-28","q":890},{"d":"1982-01-09","q":1250},{"d":"1982-01-22","q":260},{"d":"1982-02-04","q":1000},{"d":"1982-02-17","q":2800},{"d":"1982-02-23","q":640},
{"d":"1965-11-12","q":300},{"d":"1965-11-25","q":250},{"d":"1965-12-08","q":400},{"d":"1965-12-21","q":350},{"d":"1966-01-03","q":1500},{"d":"1966-01-15","q":800},{"d":"1966-01-28","q":250},{"d":"1966-02-10","q":350},{"d":"1966-02-23","q":220},{"d":"1966-03-08","q":500},{"d":"1966-03-21","q":400},{"d":"1966-04-03","q":180},
{"d":"1966-11-12","q":8},{"d":"1966-11-25","q":350},{"d":"1966-12-08","q":400},{"d":"1966-12-21","q":600},{"d":"1967-01-03","q":500},{"d":"1967-01-15","q":400},{"d":"1967-01-28","q":400},{"d":"1967-02-10","q":250},{"d":"1967-02-23","q":300},{"d":"1967-03-08","q":250},{"d":"1967-03-21","q":130},{"d":"1967-04-03","q":150},
{"d":"1967-11-12","q":300},{"d":"1967-11-25","q":200},{"d":"1967-12-08","q":400},{"d":"1967-12-21","q":800},{"d":"1968-01-03","q":300},{"d":"1968-01-15","q":500},{"d":"1968-01-28","q":400},{"d":"1968-02-10","q":900},{"d":"1968-02-23","q":600},{"d":"1968-03-08","q":200},{"d":"1968-03-21","q":300},{"d":"1968-04-03","q":120},
{"d":"1968-11-12","q":500},{"d":"1968-11-25","q":1000},{"d":"1968-12-08","q":700},{"d":"1968-12-21","q":1200},{"d":"1969-01-03","q":600},{"d":"1969-01-15","q":600},{"d":"1969-01-28","q":500},{"d":"1969-02-10","q":400},{"d":"1969-02-23","q":250},{"d":"1969-03-08","q":250},{"d":"1969-03-21","q":180},{"d":"1969-04-03","q":170},
{"d":"1969-11-12","q":100},{"d":"1969-11-25","q":120},{"d":"1969-12-08","q":600},{"d":"1969-12-21","q":800},{"d":"1970-01-03","q":1500},{"d":"1970-01-15","q":1000},{"d":"1970-01-28","q":700},{"d":"1970-02-10","q":300},{"d":"1970-02-23","q":400},{"d":"1970-03-08","q":180},{"d":"1970-03-21","q":120},{"d":"1970-04-03","q":80},
{"d":"1970-11-12","q":260},{"d":"1970-11-25","q":900},{"d":"1970-12-08","q":600},{"d":"1970-12-21","q":1000},{"d":"1971-01-03","q":900},{"d":"1971-01-15","q":1200},{"d":"1971-01-28","q":350},{"d":"1971-02-10","q":350},{"d":"1971-02-23","q":250},{"d":"1971-03-08","q":600},{"d":"1971-03-21","q":350},{"d":"1971-04-03","q":250},
{"d":"1971-11-12","q":600},{"d":"1971-11-25","q":400},{"d":"1971-12-08","q":800},{"d":"1971-12-21","q":400},{"d":"1972-01-03","q":700},{"d":"1972-01-15","q":900},{"d":"1972-01-28","q":600},{"d":"1972-02-10","q":500},{"d":"1972-02-23","q":200},{"d":"1972-03-08","q":250},{"d":"1972-03-21","q":150},{"d":"1972-04-03","q":200},
{"d":"1972-11-12","q":30},{"d":"1972-11-25","q":45},{"d":"1972-12-08","q":60},{"d":"1972-12-21","q":400},{"d":"1973-01-03","q":1100},{"d":"1973-01-15","q":400},{"d":"1973-01-28","q":220},{"d":"1973-02-10","q":150},{"d":"1973-02-23","q":260},{"d":"1973-03-08","q":200},{"d":"1973-03-21","q":280},{"d":"1973-04-03","q":170},
{"d":"1973-11-12","q":1000},{"d":"1973-11-25","q":800},{"d":"1973-12-08","q":1000},{"d":"1973-12-21","q":900},{"d":"1974-01-03","q":1200},{"d":"1974-01-15","q":600},{"d":"1974-01-28","q":1000},{"d":"1974-02-10","q":600},{"d":"1974-02-23","q":400},{"d":"1974-03-08","q":700},{"d":"1974-03-21","q":400},{"d":"1974-04-03","q":500},
{"d":"1974-11-12","q":9},{"d":"1974-11-25","q":300},{"d":"1974-12-08","q":300},{"d":"1974-12-21","q":500},{"d":"1975-01-03","q":400},{"d":"1975-01-15","q":1200},{"d":"1975-01-28","q":500},{"d":"1975-02-10","q":400},{"d":"1975-02-23","q":400},{"d":"1975-03-08","q":500},{"d":"1975-03-21","q":300},{"d":"1975-04-03","q":300},
{"d":"1975-11-12","q":200},{"d":"1975-11-25","q":700},{"d":"1975-12-08","q":800},{"d":"1975-12-21","q":1000},{"d":"1976-01-03","q":300},{"d":"1976-01-15","q":500},{"d":"1976-01-28","q":600},{"d":"1976-02-10","q":400},{"d":"1976-02-23","q":500},{"d":"1976-03-08","q":1200},{"d":"1976-03-21","q":300},{"d":"1976-04-03","q":150},
{"d":"1976-11-12","q":19},{"d":"1976-11-25","q":15},{"d":"1976-12-08","q":14},{"d":"1976-12-21","q":15},{"d":"1977-01-03","q":12},{"d":"1977-01-15","q":20},{"d":"1977-01-28","q":30},{"d":"1977-02-10","q":30},{"d":"1977-02-23","q":45},{"d":"1977-03-08","q":400},{"d":"1977-03-21","q":170},{"d":"1977-04-03","q":200},
{"d":"1977-11-12","q":1000},{"d":"1977-11-25","q":600},{"d":"1977-12-08","q":1000},{"d":"1977-12-21","q":1200},{"d":"1978-01-03","q":800},{"d":"1978-01-15","q":1000},{"d":"1978-01-28","q":500},{"d":"1978-02-10","q":500},{"d":"1978-02-23","q":300},{"d":"1978-03-08","q":250},{"d":"1978-03-21","q":250},{"d":"1978-04-03","q":150},
{"d":"1978-11-12","q":30},{"d":"1978-11-25","q":110},{"d":"1978-12-08","q":90},{"d":"1978-12-21","q":100},{"d":"1979-01-03","q":400},{"d":"1979-01-15","q":200},{"d":"1979-01-28","q":400},{"d":"1979-02-10","q":300},{"d":"1979-02-23","q":600},{"d":"1979-03-08","q":400},{"d":"1979-03-21","q":200},{"d":"1979-04-03","q":200},
{"d":"1979-11-12","q":270},{"d":"1979-11-25","q":640},{"d":"1979-12-08","q":1000},{"d":"1979-12-21","q":400},{"d":"1980-01-03","q":1500},{"d":"1980-01-15","q":600},{"d":"1980-01-28","q":500},{"d":"1980-02-10","q":500},{"d":"1980-02-23","q":250},{"d":"1980-03-08","q":500},{"d":"1980-03-21","q":400},{"d":"1980-04-03","q":200},
{"d":"1980-11-12","q":260},{"d":"1980-11-25","q":640},{"d":"1980-12-08","q":1500},{"d":"1980-12-21","q":400},{"d":"1981-01-03","q":110},{"d":"1981-01-15","q":260},{"d":"1981-01-28","q":170},{"d":"1981-02-10","q":88},{"d":"1981-02-23","q":1400},{"d":"1981-03-08","q":210},{"d":"1981-03-21","q":110},{"d":"1981-04-03","q":170},
{"d":"1981-11-12","q":110},{"d":"1981-11-25","q":640},{"d":"1981-12-08","q":1500},{"d":"1981-12-21","q":640},{"d":"1982-01-03","q":1000},{"d":"1982-01-15","q":410},{"d":"1982-01-28","q":1500},{"d":"1982-02-10","q":260}
]
},
"vconcat": [
{
  "width": 1210,
  "height": 422,
  "title": {"text": "Rickreall gage data Dallas", "anchor": "middle", "frame": "group", "offset": -51, "baseline": "alphabetic", "dx": -14.5, "fontSize": 19, "fontWeight": "bold", "font": "Liberation Sans", "color": "#000"},
  "layer": [
    {
      "data": {"values": [{"a": "1957-10-01", "b": "1978-11-28", "lo": 0.001, "hi": 10000}]},
      "mark": {"type": "rect", "fill": "transparent", "stroke": "#999", "strokeWidth": 1},
      "encoding": {
        "x": {"field": "a", "type": "temporal",
              "scale": {"type": "utc", "domain": [{"year": 1957, "month": 10, "date": 1, "utc": true}, {"year": 1978, "month": 11, "date": 28, "utc": true}], "range": [112, 1136], "nice": false},
              "axis": {"title": null, "orient": "bottom", "offset": -152.7, "format": "%-m/%-d/%y", "labelAngle": -90, "labelPadding": 7, "zindex": 0,
                "values": [{"year":1957,"month":10,"date":1,"utc":true},{"year":1958,"month":10,"date":1,"utc":true},{"year":1959,"month":10,"date":1,"utc":true},{"year":1960,"month":10,"date":1,"utc":true},{"year":1961,"month":10,"date":1,"utc":true},{"year":1962,"month":10,"date":1,"utc":true},{"year":1963,"month":10,"date":1,"utc":true},{"year":1964,"month":10,"date":1,"utc":true},{"year":1965,"month":10,"date":1,"utc":true},{"year":1966,"month":10,"date":1,"utc":true},{"year":1967,"month":10,"date":1,"utc":true},{"year":1968,"month":10,"date":1,"utc":true},{"year":1969,"month":10,"date":1,"utc":true},{"year":1970,"month":10,"date":1,"utc":true},{"year":1971,"month":10,"date":1,"utc":true},{"year":1972,"month":10,"date":1,"utc":true},{"year":1973,"month":10,"date":1,"utc":true},{"year":1974,"month":10,"date":1,"utc":true},{"year":1975,"month":10,"date":1,"utc":true},{"year":1976,"month":10,"date":1,"utc":true},{"year":1977,"month":10,"date":1,"utc":true},{"year":1978,"month":10,"date":1,"utc":true}]}},
        "x2": {"field": "b"},
        "y": {"field": "lo", "type": "quantitative",
              "scale": {"type": "log", "domain": [0.001, 10000], "range": [375, 128.3], "nice": false},
              "axis": {"title": "Discharge cfs", "offset": -112, "values": [0.001, 0.01, 0.1, 1, 10, 100, 1000, 10000], "format": "~g", "labelPadding": 8, "zindex": 1,
                "titleX": -82, "titleY": 253, "titleAngle": -90, "titleAlign": "center", "titleBaseline": "middle", "titleFontSize": 17.5, "titleFontWeight": "bold"}},
        "y2": {"field": "hi"}
      }
    },
    {
      "data": {"name": "top"},
      "mark": {"type": "line", "color": "#000080", "strokeWidth": 1.3},
      "encoding": {
        "x": {"field": "d", "type": "temporal"},
        "y": {"field": "q", "type": "quantitative"}
      }
    }
  ]
},
{
  "width": 1225,
  "height": 330,
  "title": {"text": "Rickreall gage data at Rickreall", "anchor": "middle", "frame": "group", "offset": -48.5, "baseline": "alphabetic", "dx": 4.5, "fontSize": 19, "fontWeight": "bold", "font": "Liberation Sans", "color": "#000"},
  "layer": [
    {
      "data": {"values": [{"a": "1965-09-15", "b": "1982-02-23", "lo": 0.01, "hi": 10000}]},
      "mark": {"type": "rect", "fill": "transparent", "stroke": "#999", "strokeWidth": 1},
      "encoding": {
        "x": {"field": "a", "type": "temporal",
              "scale": {"type": "utc", "domain": [{"year": 1965, "month": 9, "date": 15, "utc": true}, {"year": 1982, "month": 2, "date": 23, "utc": true}], "range": [116.7, 1199.5], "nice": false},
              "axis": {"title": null, "orient": "bottom", "offset": -111.1, "format": "%m/%d/%y", "labelAngle": -90, "labelPadding": 7, "zindex": 0,
                "values": [{"year":1965,"month":9,"date":15,"utc":true},{"year":1966,"month":9,"date":15,"utc":true},{"year":1967,"month":9,"date":15,"utc":true},{"year":1968,"month":9,"date":14,"utc":true},{"year":1969,"month":9,"date":14,"utc":true},{"year":1970,"month":9,"date":14,"utc":true},{"year":1971,"month":9,"date":14,"utc":true},{"year":1972,"month":9,"date":13,"utc":true},{"year":1973,"month":9,"date":13,"utc":true},{"year":1974,"month":9,"date":13,"utc":true},{"year":1975,"month":9,"date":13,"utc":true},{"year":1976,"month":9,"date":12,"utc":true},{"year":1977,"month":9,"date":12,"utc":true},{"year":1978,"month":9,"date":12,"utc":true},{"year":1979,"month":9,"date":12,"utc":true},{"year":1980,"month":9,"date":11,"utc":true},{"year":1981,"month":9,"date":11,"utc":true}]}},
        "x2": {"field": "b"},
        "y": {"field": "lo", "type": "quantitative",
              "scale": {"type": "log", "domain": [0.01, 10000], "range": [288.3, 80], "nice": false},
              "axis": {"title": "Discharge in cfs", "offset": -116.7, "values": [0.01, 0.1, 1, 10, 100, 1000, 10000], "format": "~g", "labelPadding": 8, "zindex": 1,
                "titleX": -83.4, "titleY": 184.8, "titleAngle": -90, "titleAlign": "center", "titleBaseline": "middle", "titleFontSize": 17.5, "titleFontWeight": "bold"}},
        "y2": {"field": "hi"}
      }
    },
    {
      "data": {"name": "bot"},
      "mark": {"type": "line", "color": "#000080", "strokeWidth": 1.3},
      "encoding": {
        "x": {"field": "d", "type": "temporal"},
        "y": {"field": "q", "type": "quantitative"}
      }
    }
  ]
}
]
}
